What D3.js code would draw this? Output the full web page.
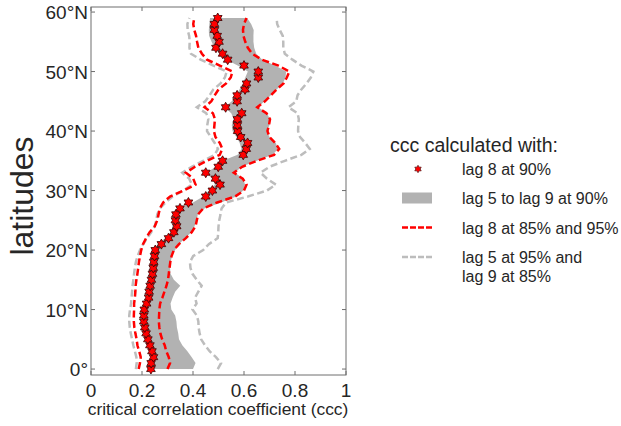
<!DOCTYPE html>
<html lang="en">
<head>
<meta charset="UTF-8">
<title>critical correlation coefficient by latitude</title>
<script src="https://d3js.org/d3.v7.min.js"></script>
<style>
  body { margin: 0; background: #fff; }
  svg text { font-family: Arial, "Liberation Sans", sans-serif; fill: #262626; }
</style>
</head>
<body>
<svg id="chart" width="621" height="426"></svg>
<script>
'use strict';

// latitudes 0..59 deg N
const lats = d3.range(0, 60);

// lag 8 at 90% (stars)
const lag8_90 = [
  0.235, 0.236, 0.245, 0.239, 0.231, 0.223, 0.216, 0.211, 0.207, 0.207,
  0.209, 0.218, 0.226, 0.228, 0.232, 0.237, 0.241, 0.244, 0.246, 0.249,
  0.252, 0.276, 0.304, 0.325, 0.336, 0.331, 0.333, 0.349, 0.382, 0.450,
  0.476, 0.506, 0.488, 0.450, 0.499, 0.516, 0.597, 0.609, 0.614, 0.587,
  0.575, 0.574, 0.574, 0.591, 0.528, 0.573, 0.573, 0.604, 0.610, 0.656,
  0.656, 0.600, 0.536, 0.516, 0.490, 0.502, 0.495, 0.484, 0.484, 0.497
];

// lag 5 to lag 9 at 90% (grey band)
const bandLo = [
  0.225, 0.226, 0.235, 0.230, 0.222, 0.214, 0.207, 0.202, 0.198, 0.198,
  0.200, 0.208, 0.216, 0.219, 0.223, 0.228, 0.232, 0.235, 0.237, 0.240,
  0.245, 0.262, 0.290, 0.315, 0.319, 0.320, 0.327, 0.350, 0.400, 0.440,
  0.462, 0.486, 0.475, 0.452, 0.490, 0.516, 0.575, 0.590, 0.583, 0.570,
  0.555, 0.552, 0.560, 0.550, 0.524, 0.552, 0.570, 0.582, 0.595, 0.605,
  0.615, 0.575, 0.532, 0.503, 0.484, 0.473, 0.463, 0.462, 0.464, 0.467
];
const bandHi = [
  0.400, 0.410, 0.395, 0.378, 0.358, 0.345, 0.342, 0.337, 0.335, 0.330,
  0.315, 0.312, 0.320, 0.330, 0.350, 0.325, 0.312, 0.310, 0.312, 0.318,
  0.330, 0.345, 0.369, 0.393, 0.406, 0.414, 0.419, 0.445, 0.510, 0.570,
  0.597, 0.604, 0.597, 0.565, 0.590, 0.650, 0.712, 0.733, 0.725, 0.700,
  0.689, 0.700, 0.702, 0.690, 0.656, 0.680, 0.705, 0.728, 0.752, 0.763,
  0.765, 0.722, 0.672, 0.648, 0.640, 0.637, 0.637, 0.638, 0.628, 0.612
];

// lag 8 at 85% and 95% (red dashed)
const red85 = [
  0.187, 0.192, 0.195, 0.189, 0.182, 0.179, 0.174, 0.170, 0.168, 0.168,
  0.169, 0.169, 0.172, 0.174, 0.175, 0.178, 0.182, 0.185, 0.188, 0.192,
  0.197, 0.204, 0.216, 0.230, 0.250, 0.260, 0.265, 0.270, 0.283, 0.310,
  0.362, 0.410, 0.401, 0.372, 0.408, 0.455, 0.505, 0.515, 0.505, 0.488,
  0.482, 0.484, 0.486, 0.478, 0.445, 0.472, 0.485, 0.500, 0.530, 0.548,
  0.555, 0.505, 0.455, 0.435, 0.421, 0.416, 0.412, 0.405, 0.401, 0.405
];
const red95 = [
  0.300, 0.310, 0.305, 0.295, 0.289, 0.279, 0.272, 0.268, 0.266, 0.267,
  0.268, 0.271, 0.280, 0.288, 0.296, 0.302, 0.305, 0.308, 0.311, 0.316,
  0.325, 0.345, 0.372, 0.395, 0.410, 0.415, 0.420, 0.440, 0.495, 0.565,
  0.600, 0.610, 0.595, 0.560, 0.593, 0.650, 0.718, 0.738, 0.722, 0.700,
  0.692, 0.698, 0.702, 0.688, 0.652, 0.682, 0.705, 0.728, 0.755, 0.768,
  0.778, 0.735, 0.670, 0.632, 0.615, 0.605, 0.598, 0.596, 0.600, 0.610
];

// lag 5 at 95% and lag 9 at 85% (light grey dashed)
const greyLo = [
  0.176, 0.179, 0.178, 0.172, 0.166, 0.161, 0.156, 0.152, 0.150, 0.150,
  0.153, 0.157, 0.159, 0.161, 0.163, 0.166, 0.169, 0.172, 0.176, 0.183,
  0.192, 0.205, 0.220, 0.236, 0.250, 0.256, 0.260, 0.270, 0.292, 0.320,
  0.362, 0.396, 0.385, 0.358, 0.395, 0.440, 0.485, 0.498, 0.485, 0.470,
  0.455, 0.456, 0.460, 0.452, 0.415, 0.448, 0.465, 0.480, 0.508, 0.525,
  0.532, 0.480, 0.430, 0.392, 0.386, 0.387, 0.385, 0.379, 0.378, 0.386
];
const greyHi = [
  0.497, 0.510, 0.490, 0.465, 0.447, 0.432, 0.426, 0.422, 0.421, 0.415,
  0.398, 0.414, 0.408, 0.421, 0.434, 0.415, 0.398, 0.390, 0.388, 0.401,
  0.440, 0.462, 0.497, 0.499, 0.500, 0.503, 0.508, 0.512, 0.530, 0.615,
  0.690, 0.725, 0.690, 0.665, 0.700, 0.760, 0.825, 0.858, 0.840, 0.820,
  0.812, 0.813, 0.815, 0.810, 0.774, 0.805, 0.810, 0.825, 0.845, 0.862,
  0.872, 0.825, 0.790, 0.760, 0.754, 0.754, 0.752, 0.740, 0.730, 0.728
];

const xTicks = [0, 0.2, 0.4, 0.6, 0.8, 1];
const yTicks = [0, 10, 20, 30, 40, 50, 60];
const legendLabels = [
  ['lag 8 at 90%'],
  ['lag 5 to lag 9 at 90%'],
  ['lag 8 at 85% and 95%'],
  ['lag 5 at 95% and', 'lag 9 at 85%']
];

const RED = '#ff0000', BAND = '#b2b2b2', LGREY = '#bdbdbd', AXIS = '#6e6e6e';

const svg = d3.select('#chart');
const plot = { left: 91, right: 346, top: 7, bottom: 375 };
const x = d3.scaleLinear().domain([0, 1]).range([plot.left, plot.right]);
const y = d3.scaleLinear().domain([-1, 60.85]).range([plot.bottom, plot.top]);

// six-pointed star marker (like matlab 'hexagram')
const hexagram = {
  draw(ctx, size) {
    const r = Math.sqrt(size);
    for (let i = 0; i < 12; i++) {
      const a = i * Math.PI / 6 - Math.PI / 2;
      const rr = i % 2 ? r / Math.sqrt(3) : r;
      if (i === 0) ctx.moveTo(rr * Math.cos(a), rr * Math.sin(a));
      else ctx.lineTo(rr * Math.cos(a), rr * Math.sin(a));
    }
    ctx.closePath();
  }
};

// band
const band = d3.area()
  .y((d, i) => y(lats[i]))
  .x0((d, i) => x(bandLo[i]))
  .x1((d, i) => x(bandHi[i]));
svg.append('path').datum(lats).attr('d', band).attr('fill', BAND);

function dashed(vals, color) {
  const line = d3.line().x(d => x(d)).y((d, i) => y(lats[i]));
  svg.append('path').datum(vals).attr('d', line)
    .attr('fill', 'none').attr('stroke', color)
    .attr('stroke-width', 2.5).attr('stroke-dasharray', '7,3.5');
}
dashed(greyLo, LGREY);
dashed(greyHi, LGREY);
dashed(red85, RED);
dashed(red95, RED);

// stars
svg.append('g').selectAll('path').data(lag8_90).join('path')
  .attr('transform', (d, i) => `translate(${x(d)},${y(lats[i])})`)
  .attr('d', d3.symbol().type(hexagram).size(25))
  .attr('fill', RED).attr('stroke', '#3a0000').attr('stroke-width', 0.8);

// frame + inward ticks on all sides
svg.append('rect')
  .attr('x', plot.left).attr('y', plot.top)
  .attr('width', plot.right - plot.left).attr('height', plot.bottom - plot.top)
  .attr('fill', 'none').attr('stroke', AXIS).attr('stroke-width', 1);

const tl = 4;
const gx = svg.append('g').attr('stroke', AXIS);
xTicks.forEach(t => {
  gx.append('line').attr('x1', x(t)).attr('x2', x(t)).attr('y1', plot.bottom).attr('y2', plot.bottom - tl);
  gx.append('line').attr('x1', x(t)).attr('x2', x(t)).attr('y1', plot.top).attr('y2', plot.top + tl);
});
yTicks.forEach(t => {
  gx.append('line').attr('y1', y(t)).attr('y2', y(t)).attr('x1', plot.left).attr('x2', plot.left + tl);
  gx.append('line').attr('y1', y(t)).attr('y2', y(t)).attr('x1', plot.right).attr('x2', plot.right - tl);
});

svg.append('g').selectAll('text').data(xTicks).join('text')
  .attr('x', d => x(d)).attr('y', 397)
  .attr('text-anchor', 'middle').attr('font-size', 19)
  .text(d => d3.format('~g')(d));

svg.append('g').selectAll('text').data(yTicks).join('text')
  .attr('x', 88).attr('y', d => y(d) + 7)
  .attr('text-anchor', 'end').attr('font-size', 19)
  .text(d => d === 0 ? '0°' : d + '°N');

svg.append('text')
  .attr('x', 218).attr('y', 415)
  .attr('text-anchor', 'middle').attr('font-size', 17.4)
  .text('critical correlation coefficient (ccc)');

svg.append('text')
  .attr('transform', 'translate(33,196) rotate(-90)')
  .attr('text-anchor', 'middle').attr('font-size', 32)
  .text('latitudes');

// legend
const lg = svg.append('g');
lg.append('text').attr('x', 390).attr('y', 152).attr('font-size', 19.5).text('ccc calculated with:');
const rowY = [169, 198, 227.5, 257];
lg.append('path')
  .attr('transform', `translate(418,${rowY[0]})`)
  .attr('d', d3.symbol().type(hexagram).size(14))
  .attr('fill', RED).attr('stroke', '#3a0000').attr('stroke-width', 0.6);
lg.append('rect').attr('x', 402).attr('y', rowY[1] - 5.5).attr('width', 30).attr('height', 11).attr('fill', BAND);
lg.append('line').attr('x1', 402).attr('x2', 432).attr('y1', rowY[2]).attr('y2', rowY[2])
  .attr('stroke', RED).attr('stroke-width', 2.5).attr('stroke-dasharray', '6,2');
lg.append('line').attr('x1', 402).attr('x2', 432).attr('y1', rowY[3]).attr('y2', rowY[3])
  .attr('stroke', LGREY).attr('stroke-width', 2.5).attr('stroke-dasharray', '6,2');
legendLabels.forEach((lines, i) => {
  lines.forEach((s, j) => {
    lg.append('text').attr('x', 462).attr('y', rowY[i] + 6 + j * 18.5)
      .attr('font-size', 16).text(s);
  });
});
</script>
</body>
</html>
